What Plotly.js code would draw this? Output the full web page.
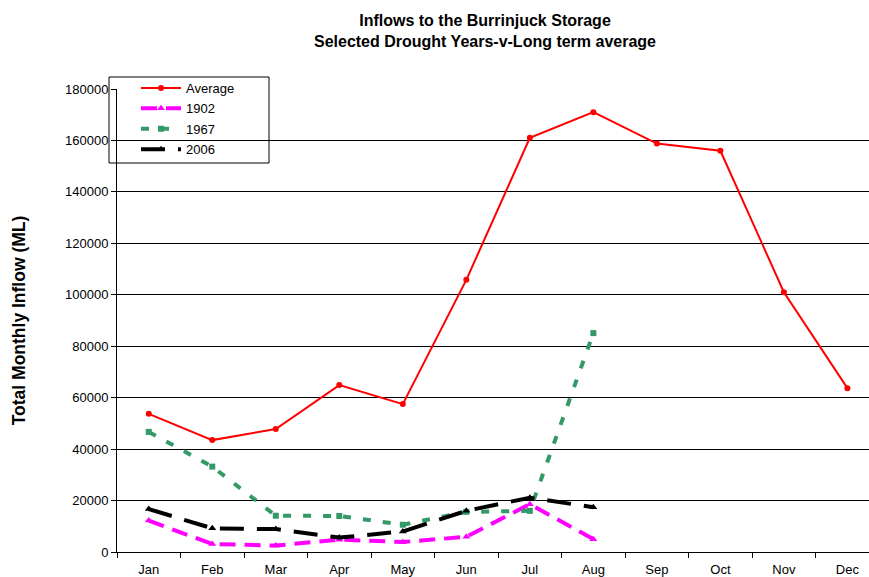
<!DOCTYPE html>
<html>
<head>
<meta charset="utf-8">
<script src="https://cdn.plot.ly/plotly-3.0.1.min.js"></script>
<style>html,body{margin:0;padding:0;background:#fff;}#chart{width:869px;height:577px;}</style>
</head>
<body>
<div id="chart"></div>
<script>
const months = ["Jan","Feb","Mar","Apr","May","Jun","Jul","Aug","Sep","Oct","Nov","Dec"];
const average = [53700, 43500, 47800, 64900, 57500, 105800, 161000, 171000, 158800, 156000, 101000, 63700];
const y1902 = [12200, 3100, 2500, 4800, 3900, 5900, 18600, 5000];
const y1967 = [46700, 33200, 14100, 14000, 10600, 15600, 16000, 85100];
const y2006 = [16700, 9200, 8900, 5600, 8000, 16000, 21100, 17400];
const yTicks = [0, 20000, 40000, 60000, 80000, 100000, 120000, 140000, 160000, 180000];

const FONT = '"Liberation Sans", Arial, sans-serif';

const traces = [
  {name: "Average", x: months, y: average, type: "scatter", mode: "lines+markers",
   line: {color: "#FF0000", width: 2}, marker: {color: "#FF0000", size: 6, symbol: "circle"}, legendgroup: "a"},
  {name: "1902", x: months.slice(0, y1902.length), y: y1902, type: "scatter", mode: "lines+markers",
   line: {color: "#FF00FF", width: 4, dash: "16px,9px"}, marker: {color: "#FF00FF", size: 7, symbol: "triangle-up"}, legendgroup: "b"},
  {name: "1967", x: months.slice(0, y1967.length), y: y1967, type: "scatter", mode: "lines+markers",
   line: {color: "#339966", width: 4, dash: "8px,12px"}, marker: {color: "#339966", size: 6, symbol: "square"}, legendgroup: "c"},
  {name: "2006", x: months.slice(0, y2006.length), y: y2006, type: "scatter", mode: "lines+markers",
   line: {color: "#000000", width: 4, dash: "24px,13px"}, marker: {color: "#000000", size: 7, symbol: "triangle-up"}, legendgroup: "d"}
];

const layout = {
  width: 869, height: 577,
  paper_bgcolor: "#fff", plot_bgcolor: "#fff",
  font: {family: FONT, size: 13, color: "#000"},
  margin: {l: 117, r: 0, t: 89, b: 25, pad: 0, autoexpand: false},
  title: {text: "<b>Inflows to the Burrinjuck Storage<br>Selected Drought Years-v-Long term average</b>",
          font: {family: FONT, size: 16, color: "#000"}, xref: "container", x: 485/869, xanchor: "center",
          yref: "container", y: 1 - 26/577, yanchor: "top"},
  xaxis: {type: "category", range: [-0.5, 11.34], showgrid: false, showline: true, linecolor: "#000", linewidth: 1,
          ticks: "outside", tickson: "boundaries", ticklen: 5, tickcolor: "#000", tickfont: {size: 13}, zeroline: false,
          ticklabelstandoff: 5, automargin: false, fixedrange: true},
  yaxis: {range: [0, 180000], tickvals: yTicks, ticktext: yTicks.map(String), showgrid: true, gridcolor: "#000", gridwidth: 1,
          showline: true, linecolor: "#000", linewidth: 1, ticks: "outside", ticklen: 5, tickcolor: "#000",
          tickfont: {size: 13}, zeroline: false, automargin: false,
          title: {text: "<b>Total Monthly Inflow (ML)</b>", font: {size: 17.5}, standoff: 34}},
  showlegend: true,
  legend: {xref: "paper", yref: "paper", x: (136 - 117) / 752, y: (552 - 73) / 463, xanchor: "left", yanchor: "top",
           bgcolor: "rgba(0,0,0,0)", borderwidth: 0, font: {size: 13}, traceorder: "grouped", tracegroupgap: 0.5, itemwidth: 40},
  shapes: [{type: "rect", xref: "paper", yref: "paper",
            x0: (109 - 117) / 752, x1: (269 - 117) / 752, y0: (552 - 163) / 463, y1: (552 - 77) / 463,
            line: {color: "#000", width: 1}, fillcolor: "#fff", layer: "below"}]
};

Plotly.newPlot("chart", traces, layout, {displayModeBar: false, staticPlot: true});
</script>
</body>
</html>
